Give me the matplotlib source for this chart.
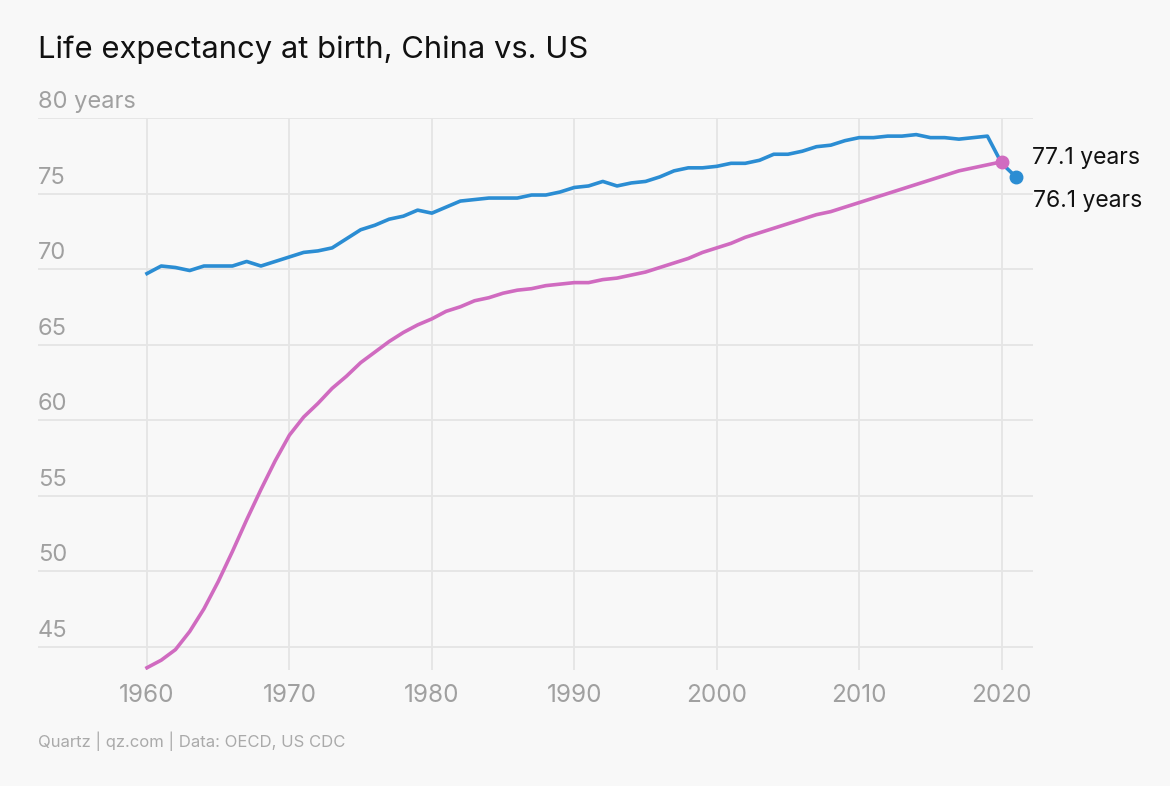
import matplotlib
matplotlib.use("Agg")
import matplotlib.pyplot as plt
import matplotlib.transforms as mtransforms

# ---- data ----
us_years = list(range(1960, 2022))
us_values = [69.7, 70.2, 70.1, 69.9, 70.2, 70.2, 70.2, 70.5, 70.2, 70.5,
             70.8, 71.1, 71.2, 71.4, 72.0, 72.6, 72.9, 73.3, 73.5, 73.9,
             73.7, 74.1, 74.5, 74.6, 74.7, 74.7, 74.7, 74.9, 74.9, 75.1,
             75.4, 75.5, 75.8, 75.5, 75.7, 75.8, 76.1, 76.5, 76.7, 76.7,
             76.8, 77.0, 77.0, 77.2, 77.6, 77.6, 77.8, 78.1, 78.2, 78.5,
             78.7, 78.7, 78.8, 78.8, 78.9, 78.7, 78.7, 78.6, 78.7, 78.8,
             77.0, 76.1]
china_years = list(range(1960, 2021))
china_values = [43.6, 44.1, 44.8, 46.0, 47.5, 49.3, 51.3, 53.4, 55.4, 57.3,
                59.0, 60.2, 61.1, 62.1, 62.9, 63.8, 64.5, 65.2, 65.8, 66.3,
                66.7, 67.2, 67.5, 67.9, 68.1, 68.4, 68.6, 68.7, 68.9, 69.0,
                69.1, 69.1, 69.3, 69.4, 69.6, 69.8, 70.1, 70.4, 70.7, 71.1,
                71.4, 71.7, 72.1, 72.4, 72.7, 73.0, 73.3, 73.6, 73.8, 74.1,
                74.4, 74.7, 75.0, 75.3, 75.6, 75.9, 76.2, 76.5, 76.7, 76.9,
                77.1]
y_ticks = [45, 50, 55, 60, 65, 70, 75, 80]
y_tick_labels = ["45", "50", "55", "60", "65", "70", "75", "80 years"]
x_ticks = [1960, 1970, 1980, 1990, 2000, 2010, 2020]
x_tick_labels = ["1960", "1970", "1980", "1990", "2000", "2010", "2020"]
china_label = "77.1 years"
us_label = "76.1 years"
title = "Life expectancy at birth, China vs. US"
source = "Quartz | qz.com | Data: OECD, US CDC"

# ---- style ----
FONT = ["Inter", "DejaVu Sans"]
plt.rcParams['font.family'] = FONT
BG = "#f8f8f8"
BLUE = "#2b8dd3"
PINK = "#d06bc0"
GRID = "#e5e5e5"
TICK = "#a0a0a0"

W, H = 1170, 786
fig = plt.figure(figsize=(W / 100, H / 100), dpi=100, facecolor=BG)
left, right, top, bottom = 38, 1033, 118, 670
ax = fig.add_axes([left / W, 1 - bottom / H, (right - left) / W, (bottom - top) / H])
ax.set_facecolor(BG)
ax.set_xlim(1952.35, 2022.2)
ax.set_ylim(43.45, 80)
for s in ax.spines.values():
    s.set_visible(False)
ax.set_xticks([])
ax.set_yticks([])

for yv in y_ticks:
    ax.axhline(yv, color=GRID, lw=1.3, zorder=1)
for xv in x_ticks:
    ax.axvline(xv, color=GRID, lw=1.3, zorder=1)

ax.plot(us_years, us_values, color=BLUE, lw=2.6, zorder=3, solid_joinstyle='round')
ax.plot(china_years, china_values, color=PINK, lw=2.6, zorder=3, solid_joinstyle='round')
ax.plot([us_years[-1]], [us_values[-1]], 'o', color=BLUE, ms=9, zorder=4, clip_on=False)
ax.plot([china_years[-1]], [china_values[-1]], 'o', color=PINK, ms=9, zorder=5, clip_on=False)

# y labels above gridlines
ytrans = mtransforms.blended_transform_factory(ax.transAxes, ax.transData)
for yv, lab in zip(y_ticks, y_tick_labels):
    ax.annotate(lab, xy=(0, yv), xycoords=ytrans, xytext=(0, 3.5), textcoords='offset points',
                ha='left', va='bottom', fontsize=17, color=TICK)

# x labels
xtrans = mtransforms.blended_transform_factory(ax.transData, ax.transAxes)
for xv, lab in zip(x_ticks, x_tick_labels):
    ax.annotate(lab, xy=(xv, 0), xycoords=xtrans, xytext=(0, -18.5), textcoords='offset points',
                ha='center', va='center', fontsize=17.5, color=TICK)

# end labels
ax.annotate(china_label, xy=(china_years[-1], china_values[-1]), xytext=(22, 2.5),
            textcoords='offset points', ha='left', va='center', fontsize=16.5, color="#111111",
            annotation_clip=False)
ax.annotate(us_label, xy=(us_years[-1], us_values[-1]), xytext=(12, -17),
            textcoords='offset points', ha='left', va='center', fontsize=16.5, color="#111111",
            annotation_clip=False)

fig.text(38 / W, 1 - 50 / H, title, ha='left', va='center', fontsize=22.3, color="#111111")
fig.text(38 / W, 1 - 741 / H, source, ha='left', va='center', fontsize=12, color="#aaaaaa")

fig.savefig("out.png", dpi=100, facecolor=BG)
